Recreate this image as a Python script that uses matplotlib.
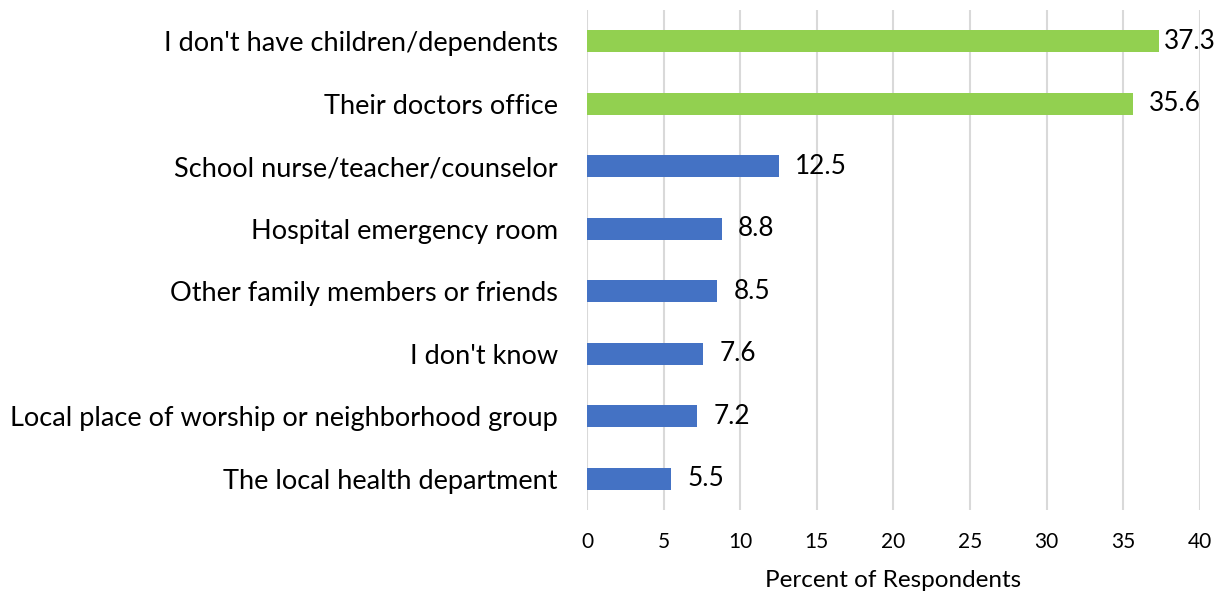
import matplotlib
matplotlib.use('Agg')
import matplotlib.pyplot as plt

# donnees
categories = ["I don't have children/dependents", "Their doctors office",
              "School nurse/teacher/counselor", "Hospital emergency room",
              "Other family members or friends", "I don't know",
              "Local place of worship or neighborhood group",
              "The local health department"]
valeurs = [37.3, 35.6, 12.5, 8.8, 8.5, 7.6, 7.2, 5.5]
couleurs = ['#92D050', '#92D050', '#4472C4', '#4472C4', '#4472C4',
            '#4472C4', '#4472C4', '#4472C4']
ticks_x = [0, 5, 10, 15, 20, 25, 30, 35, 40]

plt.rcParams['font.family'] = ['Lato', 'DejaVu Sans']

fig = plt.figure(figsize=(12.29, 5.92), dpi=100)
ax = fig.add_axes([0.4776, 0.1385, 0.4988, 0.8445])

pos = list(range(len(categories)))
ax.barh(pos, valeurs, height=0.35, color=couleurs, zorder=3)
for p, v in zip(pos, valeurs):
    # l'etiquette reste dans la zone du graphique (comme Excel)
    x = min(v + 1.05, 37.65)
    ax.text(x, p, f"{v}", va='center', ha='left', fontsize=18.8, color='black')

ax.set_xlim(0, 40)
ax.set_ylim(len(categories) - 0.5, -0.5)
ax.set_xticks(ticks_x)
ax.set_xticklabels([str(t) for t in ticks_x], fontsize=15)
ax.set_yticks(pos)
ax.set_yticklabels(categories, fontsize=19.5)
ax.tick_params(axis='both', length=0)
ax.tick_params(axis='y', pad=21)
ax.tick_params(axis='x', pad=16)
ax.grid(axis='x', color='#D9D9D9', linewidth=1.5, zorder=0)
for s in ax.spines.values():
    s.set_visible(False)
ax.set_xlabel('Percent of Respondents', fontsize=17.5, labelpad=13)

fig.savefig('out.png', dpi=100)
